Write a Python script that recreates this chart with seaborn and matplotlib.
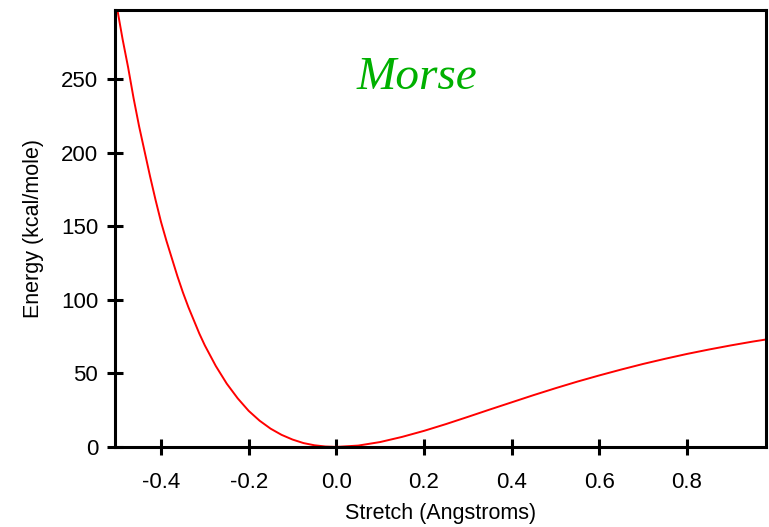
import matplotlib
matplotlib.use('Agg')
import matplotlib.pyplot as plt
import seaborn as sns
import pandas as pd

# Morse potential
stretch = [-0.50, -0.4875, -0.475, -0.4625, -0.45, -0.4375, -0.425, -0.4125, -0.40, -0.3875,
           -0.375, -0.3625, -0.35, -0.3375, -0.325, -0.3125, -0.30, -0.275,
           -0.25, -0.225, -0.20, -0.175, -0.15, -0.125, -0.10, -0.075, -0.05, -0.025,
           0.0, 0.05, 0.10, 0.15, 0.20, 0.25, 0.30, 0.35, 0.40, 0.45, 0.50, 0.55,
           0.60, 0.65, 0.70, 0.75, 0.80, 0.85, 0.90, 0.95, 0.98]
energy = [298, 277, 258, 237, 218, 201, 184, 168, 153, 140,
          128, 116, 105, 95, 86, 77, 69, 55,
          43, 33, 24.5, 17.8, 12.4, 8.2, 5.0, 2.6, 1.1, 0.27,
          0.0, 0.9, 3.3, 6.8, 10.9, 15.5, 20.4, 25.4, 30.3, 35.2, 39.9, 44.4,
          48.6, 52.6, 56.4, 59.9, 63.2, 66.2, 69.0, 71.6, 73.0]
x_ticks = [-0.4, -0.2, 0.0, 0.2, 0.4, 0.6, 0.8]
y_ticks = [0, 50, 100, 150, 200, 250]

df = pd.DataFrame({'Stretch': stretch, 'Energy': energy})

sns.set_style('ticks')
plt.rcParams['font.family'] = ['Liberation Sans', 'DejaVu Sans']

fig = plt.figure(figsize=(7.69, 5.27), dpi=100)
ax = fig.add_axes([0.1495, 0.152, 0.8465, 0.829])

sns.lineplot(data=df, x='Stretch', y='Energy', color='red', linewidth=1.4, ax=ax)

ax.set_xlim(-0.505, 0.98)
ax.set_ylim(0, 297)
ax.set_xticks(x_ticks)
ax.set_xticklabels([f'{t:.1f}' for t in x_ticks])
ax.set_yticks(y_ticks)

for s in ax.spines.values():
    s.set_linewidth(2.2)
    s.set_color('black')
ax.tick_params(direction='inout', length=12, width=2.2, labelsize=16, colors='black')
ax.tick_params(axis='x', pad=12)
ax.tick_params(axis='y', pad=6)

ax.set_xlabel('Stretch (Angstroms)', fontsize=15.5, labelpad=7, color='black')
ax.set_ylabel('Energy (kcal/mole)', fontsize=15.5, labelpad=12, color='black')

ax.text(0.183, 251, 'Morse', fontsize=34, color='#00b000', style='italic',
        family=['Liberation Serif', 'DejaVu Serif'], ha='center', va='center')

fig.savefig('out.png', dpi=100)
